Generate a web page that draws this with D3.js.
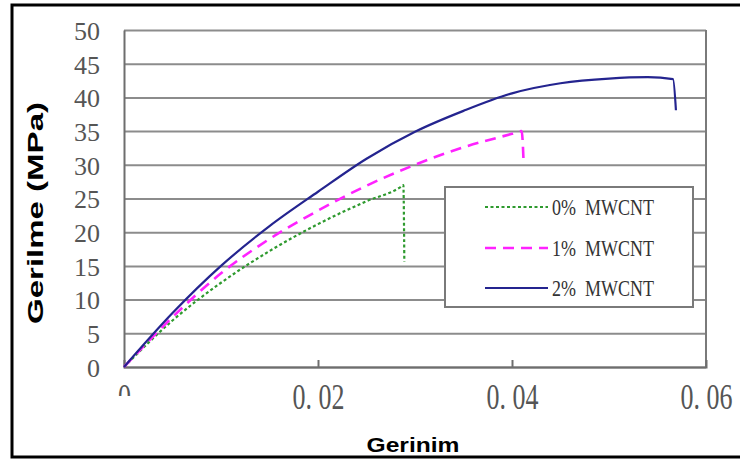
<!DOCTYPE html>
<html>
<head>
<meta charset="utf-8">
<script src="https://cdn.jsdelivr.net/npm/d3@7"></script>
<style>
  body { margin: 0; background: #fff; }
  svg { display: block; }
</style>
</head>
<body>
<svg id="chart" width="740" height="460"></svg>
<script>
// data
const strain0 = [0, 0.005, 0.010, 0.015, 0.020, 0.025, 0.0285, 0.0288, 0.0289];
const stress0 = [0, 6.9, 12.5, 17.2, 21.2, 24.6, 26.7, 27.0, 15.6];
const strain1 = [0, 0.005, 0.010, 0.015, 0.020, 0.025, 0.030, 0.035, 0.040, 0.0410, 0.0412];
const stress1 = [0, 7.4, 13.9, 19.0, 23.2, 26.9, 30.0, 32.6, 34.6, 35.0, 30.2];
const strain2 = [0, 0.005, 0.010, 0.015, 0.020, 0.025, 0.030, 0.035, 0.040, 0.045, 0.050, 0.054, 0.0566, 0.0569];
const stress2 = [0, 8.0, 15.0, 20.9, 26.0, 30.9, 34.9, 38.0, 40.6, 42.1, 42.8, 43.0, 42.7, 38.1];

const seriesNames = ["0% MWCNT", "1% MWCNT", "2% MWCNT"];
const yTicks = [0, 5, 10, 15, 20, 25, 30, 35, 40, 45, 50];
const xTicks = [0, 0.02, 0.04, 0.06];
const xTickLabels = ["0", "0. 02", "0. 04", "0. 06"];

const svg = d3.select("svg#chart");
const margin = {left: 124, right: 34, top: 30, bottom: 93};
const width = 740, height = 460;

const x = d3.scaleLinear().domain([0, 0.06]).range([margin.left, width - margin.right]);
const y = d3.scaleLinear().domain([0, 50]).range([height - margin.bottom, margin.top]);

// outer black frame
svg.append("rect")
   .attr("x", 12).attr("y", 5)
   .attr("width", 760).attr("height", 452)
   .attr("fill", "none").attr("stroke", "#000").attr("stroke-width", 3);

// horizontal gridlines
let grid = svg.append("g")
   .attr("class", "y gridlines")
   .attr("transform", "translate(" + x(0) + ",0)")
   .call(d3.axisLeft(y).tickValues(yTicks).tickSize(-(x(0.06) - x(0))).tickFormat(""));
grid.select(".domain").remove();
grid.selectAll("line").attr("stroke", "#8c8c8c").attr("stroke-width", 2);

// y axis labels
let yAxis = svg.append("g")
   .attr("class", "y axis")
   .attr("transform", "translate(" + x(0) + ",0)")
   .call(d3.axisLeft(y).tickValues(yTicks).tickSize(0).tickPadding(24).tickFormat(d3.format("d")));
yAxis.select(".domain").attr("stroke", "#6e6e6e").attr("stroke-width", 2);
yAxis.selectAll("text")
   .attr("font-family", "'Liberation Serif', serif")
   .attr("font-size", 26)
   .attr("fill", "#555")
   .attr("dy", "0.36em");

// right border of plot
svg.append("line")
   .attr("x1", x(0.06)).attr("x2", x(0.06))
   .attr("y1", y(50)).attr("y2", y(0))
   .attr("stroke", "#7a7a7a").attr("stroke-width", 2);

// x axis with inner ticks
let xAxis = svg.append("g")
   .attr("class", "x axis")
   .attr("transform", "translate(0," + y(0) + ")")
   .call(d3.axisBottom(x).tickValues(xTicks).tickSize(-7).tickPadding(0)
           .tickFormat((d, i) => xTickLabels[i]));
xAxis.select(".domain").attr("stroke", "#6e6e6e").attr("stroke-width", 2);
xAxis.selectAll("line").attr("stroke", "#6e6e6e").attr("stroke-width", 2);
xAxis.selectAll("text")
   .attr("font-family", "'Liberation Serif', serif")
   .attr("font-size", 26)
   .attr("fill", "#555")
   .attr("y", 0)
   .attr("dy", 0)
   .attr("transform", "translate(0,42) scale(1,1.35)");

// first label is cut off in the original (clip is in the tick's own coordinates)
svg.append("clipPath").attr("id", "zeroClip")
   .append("rect").attr("x", -40).attr("y", -20).attr("width", 80).attr("height", 49);
xAxis.selectAll(".tick").filter(d => d === 0).attr("clip-path", "url(#zeroClip)")
   .select("line").remove();
xAxis.selectAll(".tick").filter(d => d === 0.06).select("line").remove();

// curves
const series = [
  {xs: strain0, ys: stress0, color: "#2e9a2e", dash: "3,2.5", w: 2.2},
  {xs: strain1, ys: stress1, color: "#ff22ff", dash: "11,7", w: 2.6},
  {xs: strain2, ys: stress2, color: "#24248f", dash: null, w: 2.2}
];

const line = d3.line()
   .x(d => x(d[0]))
   .y(d => y(d[1]))
   .curve(d3.curveMonotoneX);

svg.append("g").attr("class", "curves")
   .selectAll("path").data(series)
   .join("path")
   .attr("d", s => line(s.xs.map((v, i) => [v, s.ys[i]])))
   .attr("fill", "none")
   .attr("stroke", s => s.color)
   .attr("stroke-width", s => s.w)
   .attr("stroke-dasharray", s => s.dash);

// legend
let legend = svg.append("g").attr("class", "legend");
legend.append("rect")
   .attr("x", 445).attr("y", 187)
   .attr("width", 248).attr("height", 120)
   .attr("fill", "#fff").attr("stroke", "#7a7a7a").attr("stroke-width", 2);
const legendY = [207, 248, 288];
series.forEach((s, i) => {
  legend.append("line")
     .attr("x1", 485).attr("x2", 548)
     .attr("y1", legendY[i]).attr("y2", legendY[i])
     .attr("stroke", s.color).attr("stroke-width", s.w)
     .attr("stroke-dasharray", s.dash);
  legend.append("text")
     .attr("x", 552).attr("y", legendY[i] + 8)
     .attr("font-family", "'Liberation Serif', serif")
     .attr("font-size", 23)
     .attr("fill", "#333")
     .attr("textLength", 102)
     .attr("lengthAdjust", "spacingAndGlyphs")
     .text(seriesNames[i].replace(" ", "\u00a0\u00a0"));
});

// axis titles
svg.append("text")
   .attr("x", 413).attr("y", 452)
   .attr("text-anchor", "middle")
   .attr("font-family", "'Liberation Sans', Arial, sans-serif")
   .attr("font-weight", "bold")
   .attr("font-size", 21)
   .attr("textLength", 93)
   .attr("lengthAdjust", "spacingAndGlyphs")
   .text("Gerinim");

svg.append("text")
   .attr("transform", "translate(43,213) rotate(-90)")
   .attr("text-anchor", "middle")
   .attr("font-family", "'Liberation Sans', Arial, sans-serif")
   .attr("font-weight", "bold")
   .attr("font-size", 22)
   .attr("textLength", 222)
   .attr("lengthAdjust", "spacingAndGlyphs")
   .text("Gerilme (MPa)");
</script>
</body>
</html>
